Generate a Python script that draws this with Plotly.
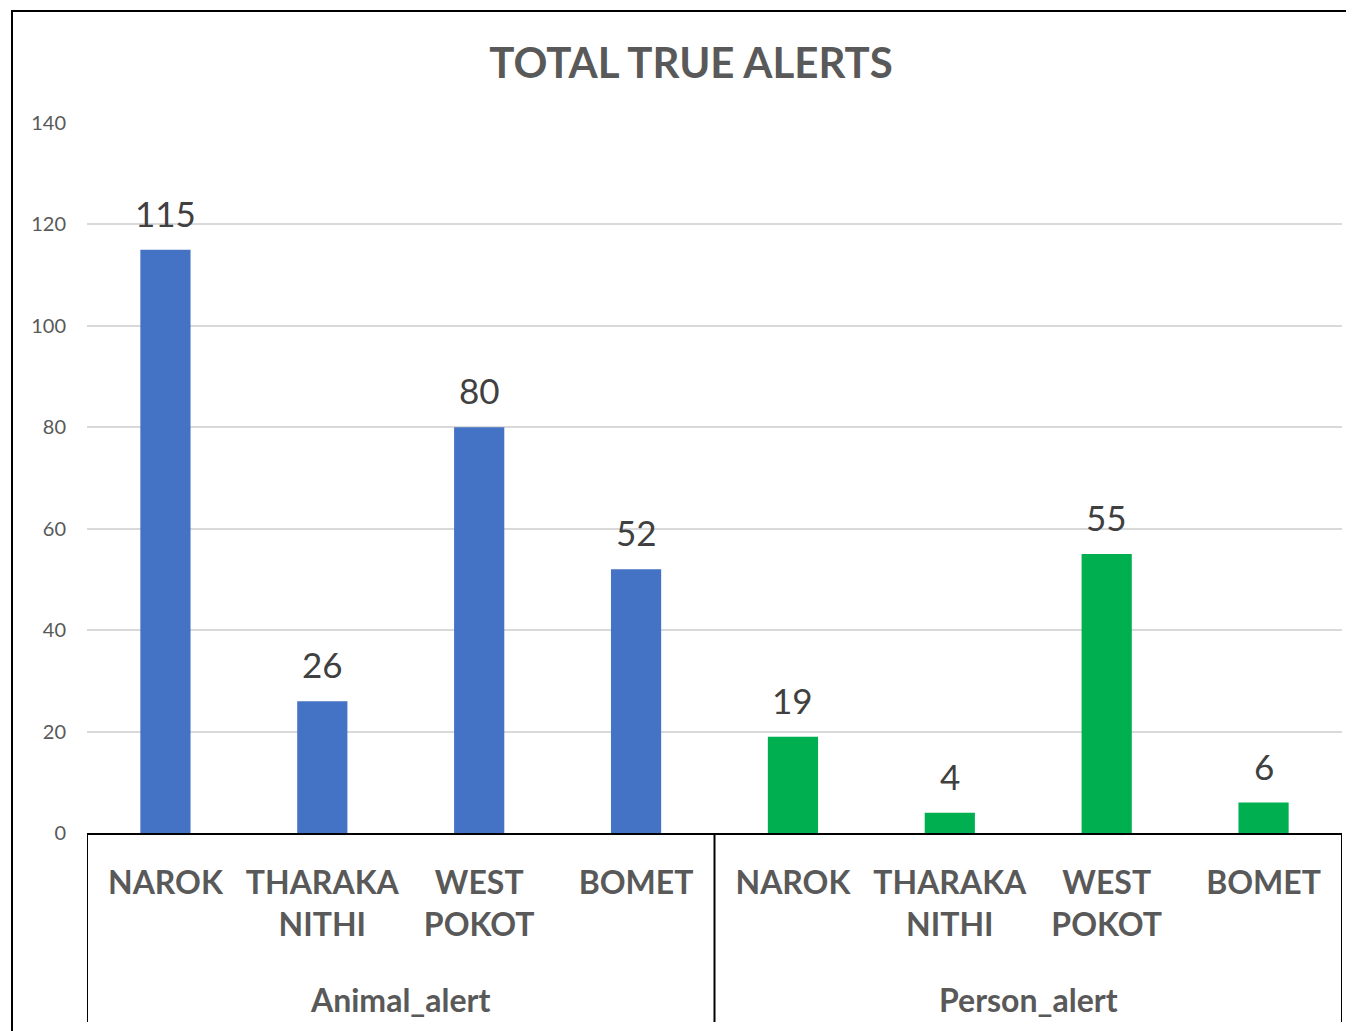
import plotly.graph_objects as go

groups = ["Animal_alert", "Person_alert"]
counties = ["NAROK", "THARAKA<br>NITHI", "WEST<br>POKOT", "BOMET"]
animal_values = [115, 26, 80, 52]
person_values = [19, 4, 55, 6]
y_ticks = [0, 20, 40, 60, 80, 100, 120, 140]

BLUE = "#4472C4"
GREEN = "#00B050"
TEXT = "#595959"
FONT = "Lato"

# page has an 8px body margin: figure is sized so that it fills the window
W, H = 1346, 1023
L, T = 79, 115
PW, PH = 1255, 710

n = len(counties)
x_animal = list(range(n))
x_person = list(range(n, 2 * n))

fig = go.Figure()
fig.add_trace(go.Bar(x=x_animal, y=animal_values, width=0.32,
                     marker=dict(color=BLUE, line=dict(width=0)), name=groups[0]))
fig.add_trace(go.Bar(x=x_person, y=person_values, width=0.32,
                     marker=dict(color=GREEN, line=dict(width=0)), name=groups[1]))

for xs, vals in ((x_animal, animal_values), (x_person, person_values)):
    for xi, v in zip(xs, vals):
        fig.add_annotation(x=xi, y=v, xref="x", yref="y", text=str(v),
                           showarrow=False, yanchor="bottom", yshift=14,
                           font=dict(family=FONT, size=35, color="#404040"))

# group labels of the two-level category axis
for gi, g in enumerate(groups):
    fig.add_annotation(x=gi * n + (n - 1) / 2, y=0, xref="x", yref="paper",
                       text=g, showarrow=False, yanchor="middle",
                       yshift=-166, font=dict(family=FONT, size=32, color=TEXT, weight="bold"))

# group dividers
for b in range(len(groups) + 1):
    fig.add_shape(type="line", xref="x", yref="paper",
                  x0=b * n - 0.5, x1=b * n - 0.5, y0=0, y1=-(1022 - 833) / PH,
                  line=dict(color="black", width=2), layer="above")

# chart outer frame (top/left edges visible, others off-page)
fig.add_shape(type="rect", xref="paper", yref="paper",
              x0=(4 - L) / PW, x1=1.05, y0=-0.5, y1=(T + PH - 3) / PH,
              line=dict(color="black", width=2), layer="above")

fig.update_layout(
    width=W, height=H,
    margin=dict(l=L, r=W - L - PW, t=T, b=H - T - PH),
    paper_bgcolor="white", plot_bgcolor="white",
    barmode="overlay",
    showlegend=False,
    title=dict(text="<b>TOTAL TRUE ALERTS</b>", x=(691 - 8) / W, xanchor="center",
               y=1 - (63 - 8) / H, yanchor="middle",
               font=dict(family=FONT, size=42, color=TEXT)),
    xaxis=dict(range=[-0.5, 2 * n - 0.5], tickvals=x_animal + x_person,
               ticktext=counties + counties, showline=True, linecolor="black", linewidth=2,
               tickangle=0, automargin=False, zeroline=False, ticklabelstandoff=21,
               tickfont=dict(family=FONT, size=32, color=TEXT, weight="bold"),
               ticks="", showgrid=False),
    yaxis=dict(range=[0, 140], tickvals=y_ticks, showgrid=True, gridcolor="#D9D9D9",
               gridwidth=2, zeroline=False, showline=False, ticks="", automargin=False,
               tickfont=dict(family=FONT, size=20, color=TEXT), ticklabelstandoff=20),
)

fig.write_html("out.html")
